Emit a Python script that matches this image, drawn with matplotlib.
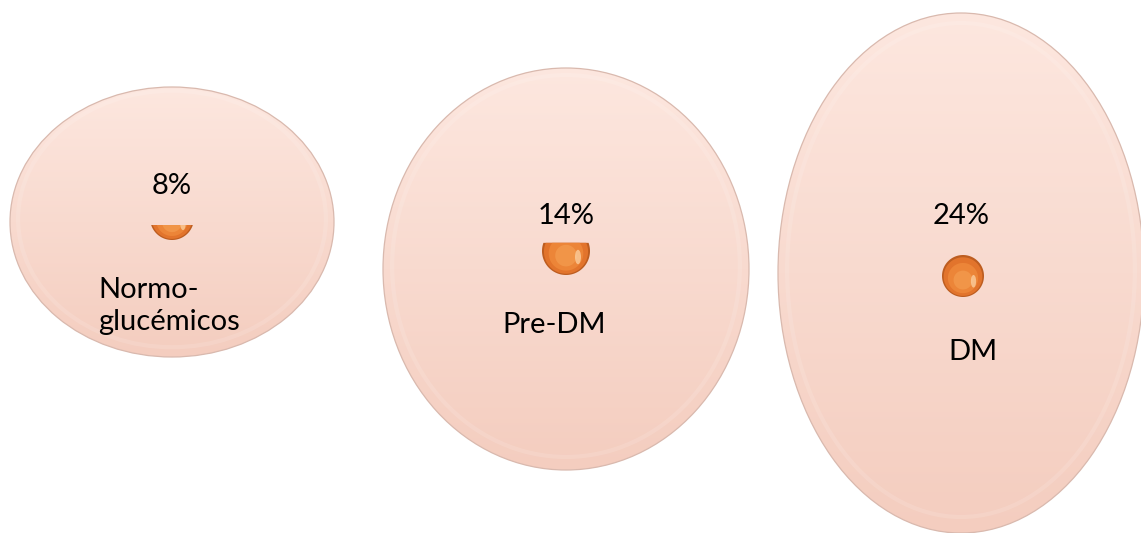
"""Three pink ellipses with percentage badges (Normo-glucémicos / Pre-DM / DM)."""
import numpy as np
import matplotlib
matplotlib.use("Agg")
import matplotlib.pyplot as plt
from matplotlib.patches import Ellipse, Polygon

groups = ["Normo-\nglucémicos", "Pre-DM", "DM"]
values = [8, 14, 24]
# how much of the little orange disc is filled
glyph_fill = [0.34, 0.67, 1.0]

# layout in pixel units (figure is 1141 x 533)
ell_center = [(172, 222), (566, 269), (961, 273)]
ell_size = [(324, 270), (366, 402), (366, 520)]
pct_y = [186, 216, 216]
glyph_xy = [(172, 218), (566, 251), (963, 276)]
glyph_r = [22, 24, 21]
label_xy = [(98, 306), (554, 325), (973, 352)]
label_ha = ["left", "center", "center"]

W, H = 1141, 533
fig = plt.figure(figsize=(W / 100, H / 100), dpi=100)
ax = fig.add_axes([0, 0, 1, 1])
ax.set_xlim(0, W)
ax.set_ylim(H, 0)
ax.axis("off")

font = ["Lato", "DejaVu Sans"]

# vertical pink gradient image, clipped to each ellipse
grad = np.linspace(0, 1, 256)[:, None]
top = np.array([253, 231, 223]) / 255
bot = np.array([244, 205, 191]) / 255
img = top + (bot - top) * grad[..., None]
img = np.repeat(img, 2, axis=1)


def disc_segment(gx, gy, r, frac, n=120):
    """Lower part of a disc (y axis points down), cut by a horizontal chord."""
    chord = gy + r - 2 * r * frac
    if frac >= 0.999:
        t = np.linspace(0, 2 * np.pi, n)
        return np.column_stack([gx + r * np.cos(t), gy + r * np.sin(t)])
    a = np.arcsin(np.clip((chord - gy) / r, -1, 1))
    t = np.linspace(a, np.pi - a, n)
    return np.column_stack([gx + r * np.cos(t), gy + r * np.sin(t)])


for (cx, cy), (w, h) in zip(ell_center, ell_size):
    e = Ellipse((cx, cy), w, h, facecolor="none", edgecolor="#d9b9ae", lw=0.9, zorder=3)
    ax.add_patch(e)
    im = ax.imshow(img, extent=(cx - w / 2, cx + w / 2, cy + h / 2, cy - h / 2),
                   aspect="auto", zorder=1, interpolation="bilinear")
    im.set_clip_path(e)
    rim = Ellipse((cx, cy - 3), w * 0.95, h * 0.95, facecolor="none",
                  edgecolor="white", lw=3, alpha=0.12, zorder=2)
    ax.add_patch(rim)

for i, v in enumerate(values):
    cx = ell_center[i][0]
    ax.text(cx, pct_y[i], f"{v}%", ha="center", va="center", fontsize=21,
            family=font, color="black", zorder=6)
    gx, gy = glyph_xy[i]
    r = glyph_r[i]
    chord = gy + r - 2 * r * glyph_fill[i]
    clip = Polygon(disc_segment(gx, gy, r, glyph_fill[i]), closed=True,
                   facecolor="#bd5d20", edgecolor="none", zorder=5)
    ax.add_patch(clip)
    layers = [(0.92, "#e2742c", 6), (0.72, "#ec8538", 7), (0.45, "#f19548", 8)]
    for s, col, z in layers:
        rr = r * s
        ry = gy + (r - rr) * 0.35
        # keep the same chord line for inner layers
        f = np.clip((ry + rr - max(chord, ry - rr)) / (2 * rr), 0, 1)
        if f <= 0:
            continue
        p = Polygon(disc_segment(gx, ry, rr, f), closed=True, facecolor=col,
                    edgecolor="none", zorder=z)
        ax.add_patch(p)
    hl = Ellipse((gx + r * 0.5, gy + r * 0.25), r * 0.25, r * 0.6,
                 facecolor="#fcd2a4", edgecolor="none", alpha=0.75, zorder=9)
    hl.set_clip_path(clip)
    ax.add_patch(hl)

    lx, ly = label_xy[i]
    ax.text(lx, ly, groups[i], ha=label_ha[i], va="center", fontsize=21,
            family=font, color="black", linespacing=1.25, zorder=6)

fig.savefig("out.png", dpi=100, facecolor="white")
